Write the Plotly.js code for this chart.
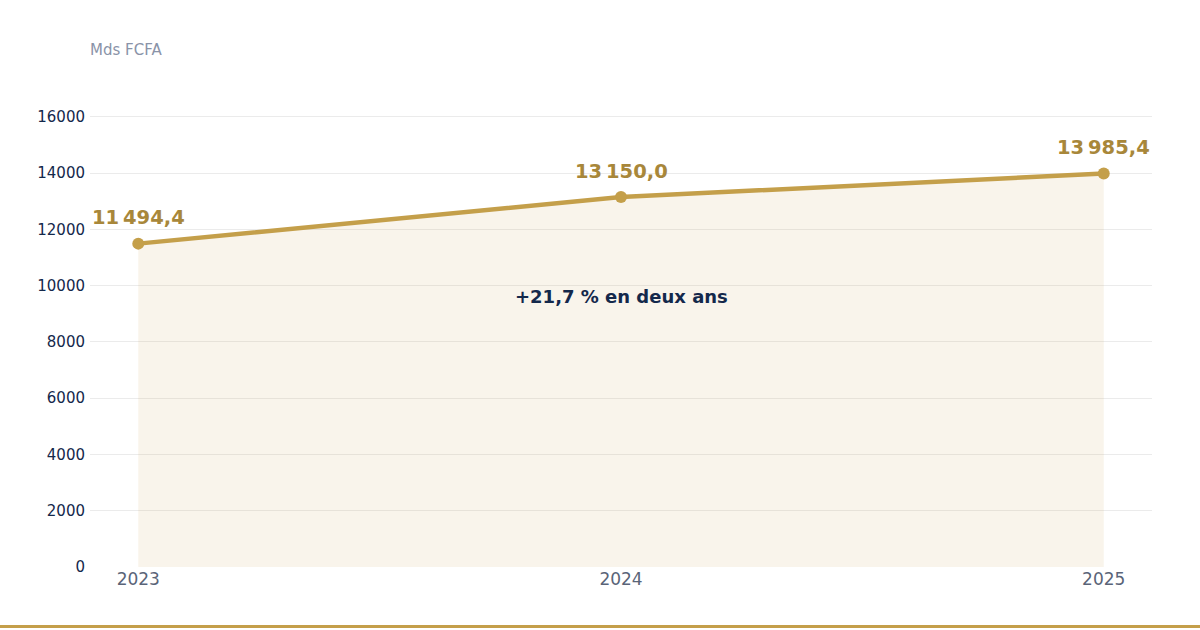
<!DOCTYPE html>
<html>
<head>
<meta charset="utf-8">
<script src="https://cdn.plot.ly/plotly-3.0.1.min.js"></script>
<style>html,body{margin:0;padding:0;background:#fff;}#chart{width:1200px;height:630px;}</style>
</head>
<body>
<div id="chart"></div>
<script>
const years = [2023, 2024, 2025];
const values = [11494.4, 13150.0, 13985.4];
const valueLabels = ["11\u202f494,4", "13\u202f150,0", "13\u202f985,4"];
const yTicks = [0, 2000, 4000, 6000, 8000, 10000, 12000, 14000, 16000];
const unitLabel = "Mds FCFA";
const noteText = "+21,7 % en deux ans";
const noteX = 2024;
const noteY = 9600;

const gold = "#c49f4a";
const font = "DejaVu Sans, sans-serif";

const trace = {
  x: years,
  y: values,
  type: "scatter",
  mode: "lines+markers",
  fill: "tozeroy",
  fillcolor: "rgba(196,159,74,0.11)",
  line: {color: gold, width: 4.5},
  marker: {color: gold, size: 12},
  hoverinfo: "skip"
};

const labelAnnotations = years.map((yr, i) => ({
  x: yr, y: values[i], xref: "x", yref: "y",
  text: "<b>" + valueLabels[i] + "</b>", showarrow: false,
  yshift: 26, xanchor: "center", yanchor: "middle",
  font: {family: font, size: 19.5, color: "#a8873a"}
}));

const layout = {
  width: 1200,
  height: 630,
  margin: {l: 90, r: 48, t: 100, b: 63},
  paper_bgcolor: "#ffffff",
  plot_bgcolor: "#ffffff",
  showlegend: false,
  font: {family: font},
  xaxis: {
    range: [2022.9, 2025.1],
    tickvals: years,
    ticktext: years.map(String),
    showgrid: false,
    zeroline: false,
    showline: false,
    ticks: "",
    tickfont: {family: font, size: 17, color: "#5a6478"}
  },
  yaxis: {
    range: [0, 16600],
    tickvals: yTicks,
    ticktext: yTicks.map(String),
    showgrid: true,
    gridcolor: "#ebebeb",
    gridwidth: 1,
    zeroline: false,
    showline: false,
    ticks: "",
    ticklabelstandoff: 4,
    tickfont: {family: font, size: 15, color: "#14284b"}
  },
  annotations: [
    {
      xref: "paper", yref: "paper", x: 0, y: 1, yshift: 50, xshift: -2,
      xanchor: "left", yanchor: "middle",
      text: unitLabel, showarrow: false,
      font: {family: font, size: 15, color: "#8a93a8"}
    },
    {
      x: noteX, y: noteY, xref: "x", yref: "y",
      text: "<b>" + noteText + "</b>", showarrow: false,
      font: {family: font, size: 18, color: "#14284b"}
    }
  ].concat(labelAnnotations),
  shapes: [
    {
      type: "line", xref: "paper", yref: "paper",
      x0: -0.1, x1: 1.1, y0: -0.1274, y1: -0.1274,
      line: {color: gold, width: 3}
    }
  ]
};

Plotly.newPlot("chart", [trace], layout, {displayModeBar: false, staticPlot: true});
</script>
</body>
</html>
